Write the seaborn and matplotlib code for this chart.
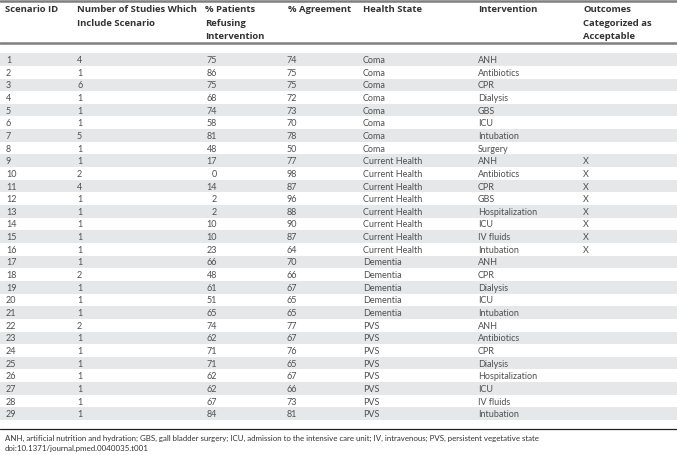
import numpy as np
import pandas as pd
import seaborn as sns
import matplotlib
matplotlib.use('Agg')
import matplotlib.pyplot as plt
import matplotlib.transforms as mtransforms
from matplotlib.colors import ListedColormap
from matplotlib.lines import Line2D

scenario_id = list(range(1, 30))
n_studies = [4, 1, 6, 1, 1, 1, 5, 1, 1, 2, 4, 1, 1, 1, 1, 1, 1, 2, 1, 1, 1, 2, 1, 1, 1, 1, 1, 1, 1]
pct_refusing = [75, 86, 75, 68, 74, 58, 81, 48, 17, 0, 14, 2, 2, 10, 10, 23, 66, 48, 61, 51, 65,
                74, 62, 71, 71, 62, 62, 67, 84]
pct_agreement = [74, 75, 75, 72, 73, 70, 78, 50, 77, 98, 87, 96, 88, 90, 87, 64, 70, 66, 67, 65, 65,
                 77, 67, 76, 65, 67, 66, 73, 81]
health_state = ['Coma'] * 8 + ['Current Health'] * 8 + ['Dementia'] * 5 + ['PVS'] * 8
intervention = ['ANH', 'Antibiotics', 'CPR', 'Dialysis', 'GBS', 'ICU', 'Intubation', 'Surgery',
                'ANH', 'Antibiotics', 'CPR', 'GBS', 'Hospitalization', 'ICU', 'IV fluids', 'Intubation',
                'ANH', 'CPR', 'Dialysis', 'ICU', 'Intubation',
                'ANH', 'Antibiotics', 'CPR', 'Dialysis', 'Hospitalization', 'ICU', 'IV fluids', 'Intubation']
acceptable = [''] * 8 + ['X'] * 8 + [''] * 13

headers = [['Scenario ID'],
           ['Number of Studies Which', 'Include Scenario'],
           ['% Patients', 'Refusing', 'Intervention'],
           ['% Agreement'],
           ['Health State'],
           ['Intervention'],
           ['Outcomes', 'Categorized as', 'Acceptable']]
footnote = ('ANH, artificial nutrition and hydration; GBS, gall bladder surgery; ICU, admission to the '
            'intensive care unit; IV, intravenous; PVS, persistent vegetative state')
doi = 'doi:10.1371/journal.pmed.0040035.t001'

df = pd.DataFrame({'id': scenario_id, 'studies': n_studies, 'refusing': pct_refusing,
                   'agreement': pct_agreement, 'state': health_state,
                   'intervention': intervention, 'acceptable': acceptable})

sns.set_theme(style='white')
plt.rcParams['font.family'] = ['Lato', 'DejaVu Sans']

W, H = 677, 456
fig = plt.figure(figsize=(W / 100, H / 100), dpi=100)

# pixel helpers for layout
fx = lambda px: px / W
fy = lambda py: 1 - py / H

row_top, pitch = 54.2, 12.65
n = len(df)
ax = fig.add_axes([0, fy(row_top + n * pitch), 1, n * pitch / H])
stripes = pd.DataFrame({'s': [(i + 1) % 2 for i in range(n)]})
sns.heatmap(stripes, ax=ax, cmap=ListedColormap(['white', '#e6e7e8']), cbar=False,
            xticklabels=False, yticklabels=False, vmin=0, vmax=1)
ax.set_xlim(0, 1)
ax.set_axis_off()

trans = mtransforms.blended_transform_factory(fig.transFigure, ax.transData)
data_color = '#505050'
dkw = dict(transform=trans, fontsize=6.5, color=data_color, va='center')
cols = [('id', 6, 'left'), ('studies', 77, 'left'), ('refusing', 217, 'right'),
        ('agreement', 297, 'right'), ('state', 363, 'left'), ('intervention', 478, 'left'),
        ('acceptable', 583, 'left')]
for i, row in df.iterrows():
    for key, px, ha in cols:
        ax.text(fx(px), i + 0.5, str(row[key]), ha=ha, **dkw)

# header
head_x = [5, 77, 205, 288, 363, 478, 583]
for hx, lines in zip(head_x, headers):
    for j, line in enumerate(lines):
        fig.text(fx(hx), fy(10 + j * 13.2), line, fontsize=6.8, fontweight='bold',
                 family=['Open Sans', 'DejaVu Sans'], color='#333333', va='center', ha='left')

# rules
fig.add_artist(Line2D([0, 1], [fy(1.5), fy(1.5)], color='#7f7f7f', lw=1.8))
fig.add_artist(Line2D([0, 1], [fy(43.5), fy(43.5)], color='#7f7f7f', lw=1.8))
fig.add_artist(Line2D([0, 1], [fy(430), fy(430)], color='#222222', lw=0.9))

fig.text(fx(5), fy(438.5), footnote, fontsize=5.7, color='#333333', va='center', ha='left')
fig.text(fx(5), fy(448.5), doi, fontsize=5.7, color='#333333', va='center', ha='left')

fig.savefig('out.png', dpi=100)
